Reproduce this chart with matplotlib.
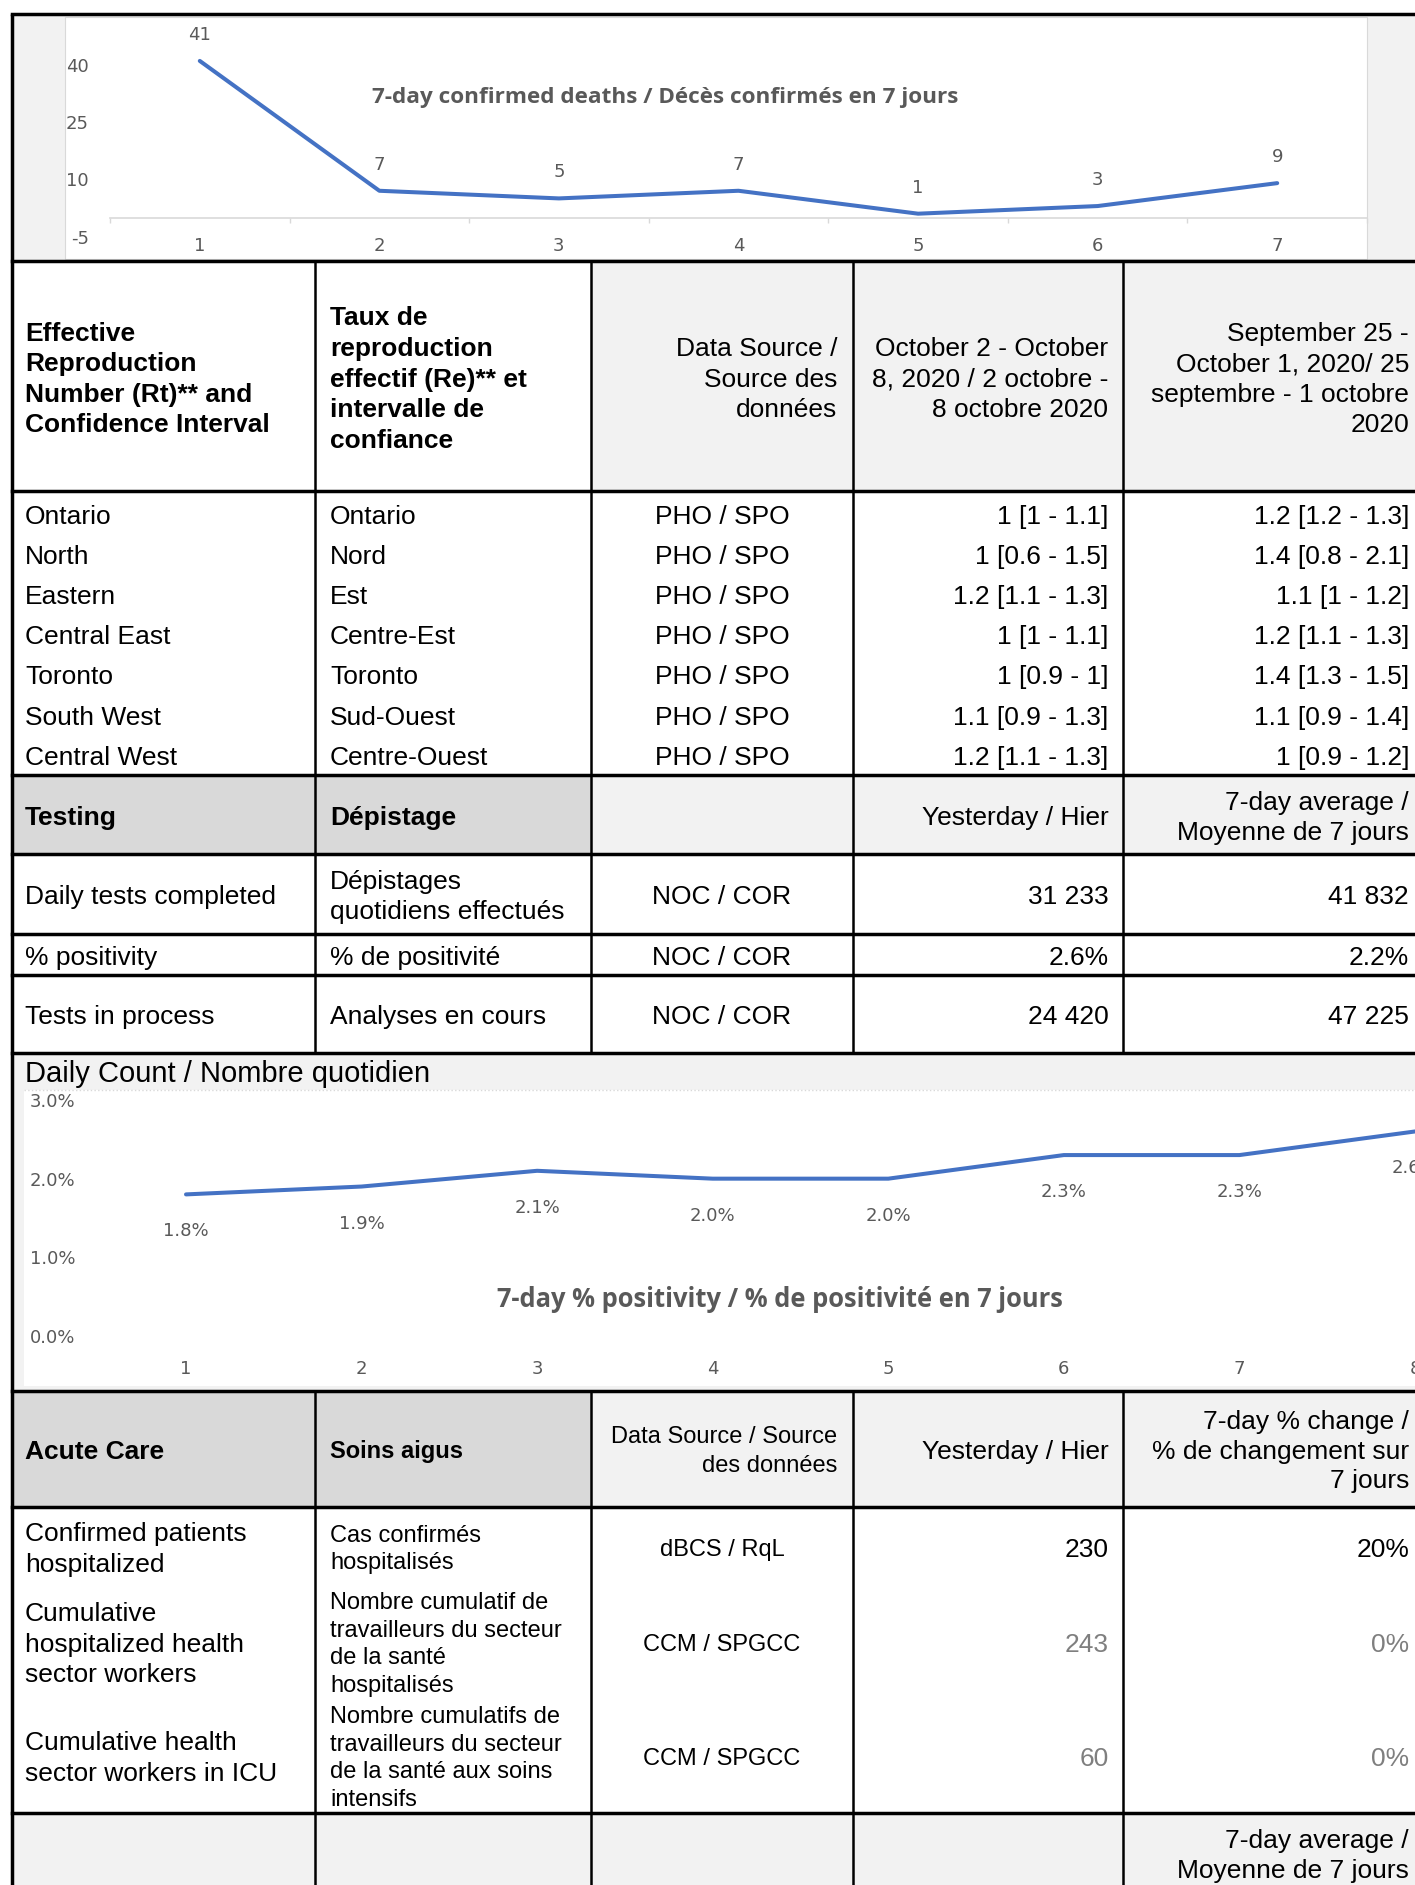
import matplotlib
matplotlib.use("Agg")
import matplotlib.pyplot as plt
from matplotlib.patches import Rectangle
import numpy as np

# ---------------- data ----------------
death_days = [1, 2, 3, 4, 5, 6, 7]
deaths_7day = [41, 7, 5, 7, 1, 3, 9]
death_yticks = [-5, 10, 25, 40]
deaths_title = "7-day confirmed deaths / Décès confirmés en 7 jours"

pos_days = [1, 2, 3, 4, 5, 6, 7, 8]
positivity_7day = [1.8, 1.9, 2.1, 2.0, 2.0, 2.3, 2.3, 2.6]
pos_yticks = [0, 1, 2, 3]
pos_title = "7-day % positivity / % de positivité en 7 jours"
pos_section_title = "Daily Count / Nombre quotidien"

rt_header = [["Effective", "Reproduction", "Number (Rt)** and", "Confidence Interval"],
             ["Taux de", "reproduction", "effectif (Re)** et", "intervalle de", "confiance"],
             ["Data Source /", "Source des", "données"],
             ["October 2 - October", "8, 2020 / 2 octobre -", "8 octobre 2020"],
             ["September 25 -", "October 1, 2020/ 25", "septembre - 1 octobre", "2020"]]
regions_en = ["Ontario", "North", "Eastern", "Central East", "Toronto", "South West", "Central West"]
regions_fr = ["Ontario", "Nord", "Est", "Centre-Est", "Toronto", "Sud-Ouest", "Centre-Ouest"]
rt_source = "PHO / SPO"
rt_current = ["1 [1 - 1.1]", "1 [0.6 - 1.5]", "1.2 [1.1 - 1.3]", "1 [1 - 1.1]",
              "1 [0.9 - 1]", "1.1 [0.9 - 1.3]", "1.2 [1.1 - 1.3]"]
rt_previous = ["1.2 [1.2 - 1.3]", "1.4 [0.8 - 2.1]", "1.1 [1 - 1.2]", "1.2 [1.1 - 1.3]",
               "1.4 [1.3 - 1.5]", "1.1 [0.9 - 1.4]", "1 [0.9 - 1.2]"]

testing_header = ["Testing", "Dépistage", "", "Yesterday / Hier", ["7-day average /", "Moyenne de 7 jours"]]
testing_en = ["Daily tests completed", "% positivity", "Tests in process"]
testing_fr = [["Dépistages", "quotidiens effectués"], "% de positivité", "Analyses en cours"]
testing_source = "NOC / COR"
testing_yesterday = ["31 233", "2.6%", "24 420"]
testing_avg = ["41 832", "2.2%", "47 225"]

acute_header = ["Acute Care", "Soins aigus", ["Data Source / Source", "des données"],
                "Yesterday / Hier", ["7-day % change /", "% de changement sur", "7 jours"]]
acute_en = [["Confirmed patients", "hospitalized"],
            ["Cumulative", "hospitalized health", "sector workers"],
            ["Cumulative health", "sector workers in ICU"]]
acute_fr = [["Cas confirmés", "hospitalisés"],
            ["Nombre cumulatif de", "travailleurs du secteur", "de la santé", "hospitalisés"],
            ["Nombre cumulatifs de", "travailleurs du secteur", "de la santé aux soins", "intensifs"]]
acute_source = ["dBCS / RqL", "CCM / SPGCC", "CCM / SPGCC"]
acute_yesterday = ["230", "243", "60"]
acute_change = ["20%", "0%", "0%"]
acute_gray = [False, True, True]
last_header = ["7-day average /", "Moyenne de 7 jours"]

# ---------------- style ----------------
W, H, DPI = 1415, 1885, 100
PX = 72.0 / DPI
TABLE_FONT = ["Liberation Sans", "DejaVu Sans"]
LABEL_FONT = ["DejaVu Sans"]
TITLE_FONT = ["Open Sans", "DejaVu Sans"]
plt.rcParams['font.family'] = LABEL_FONT
plt.rcParams['axes.unicode_minus'] = False
LINE_BLUE = "#4472C4"
CHART_GRAY = "#595959"
LIGHT = "#f2f2f2"
MID = "#d9d9d9"
VALUE_GRAY = "#7f7f7f"

fig = plt.figure(figsize=(W / DPI, H / DPI), dpi=DPI)
bg = fig.add_axes([0, 0, 1, 1])
bg.set_xlim(0, W)
bg.set_ylim(H, 0)
bg.axis('off')


def frect(x0, y0, x1, y1):
    return [x0 / W, 1 - y1 / H, (x1 - x0) / W, (y1 - y0) / H]


def rect(x0, y0, x1, y1, color, ec='none', lw=0):
    bg.add_patch(Rectangle((x0, y0), x1 - x0, y1 - y0, facecolor=color,
                           edgecolor=ec, linewidth=lw, zorder=0))


def hline(y, x0=12, x1=W, lw=2.5):
    bg.plot([x0, x1], [y, y], color='black', lw=lw, solid_capstyle='projecting', zorder=3)


def vline(x, y0, y1, lw=1.8):
    bg.plot([x, x], [y0, y1], color='black', lw=lw, solid_capstyle='butt', zorder=3)


def cell(x, yc, lines, ha='left', size=19, weight='normal', color='black', pitch=None):
    if isinstance(lines, str):
        lines = [lines]
    em = size * DPI / 72.0
    if pitch is None:
        pitch = 1.15 * em
    n = len(lines)
    for i, l in enumerate(lines):
        yl = yc + (i - (n - 1) / 2) * pitch + 0.36 * em
        bg.text(x, yl, l, ha=ha, va='baseline', fontsize=size, fontweight=weight,
                color=color, family=TABLE_FONT, zorder=4)


# column geometry
XL, C1, C2, C3, C4 = 12, 315, 591, 853, 1123
c1L, c2L, c3C, c3R, c4R, c5R = 25, 330, 722, 837, 1108.5, 1409

# ---------------- fills ----------------
rect(XL, 14, W, 261, LIGHT)
rect(65, 17, 1367, 259, 'white', ec=MID, lw=0.8)
rect(C2, 261, W, 491, LIGHT)
rect(XL, 775, C2, 854, MID)
rect(C2, 775, W, 854, LIGHT)
rect(XL, 1053, W, 1391, LIGHT)
rect(24, 1090, W + 5, 1386, 'white')
bg.plot([24, W], [1090, 1090], color=MID, ls=':', lw=1, zorder=1)
rect(XL, 1391, C2, 1507, MID)
rect(C2, 1391, W, 1507, LIGHT)
rect(XL, 1813, W, H, LIGHT)

# ---------------- lines ----------------
for y in [14, 261, 491, 775, 854, 934, 975, 1053, 1391, 1507, 1813]:
    hline(y)
vline(XL, 14, H, lw=2.5)
for x in [C1, C2, C3, C4]:
    vline(x, 261, 1053)
    vline(x, 1391, H)

# ---------------- Rt section ----------------
hy = 377
cell(c1L, hy, rt_header[0], weight='bold', pitch=30.4)
cell(c2L, hy, rt_header[1], weight='bold', pitch=30.6)
cell(c3R, hy, rt_header[2], ha='right', pitch=30.4)
cell(c4R, hy, rt_header[3], ha='right', pitch=30.4)
cell(c5R, hy, rt_header[4], ha='right', pitch=30.6)

for i in range(len(regions_en)):
    yc = 514.5 + 40.1 * i
    cell(c1L, yc, regions_en[i])
    cell(c2L, yc, regions_fr[i])
    cell(c3C, yc, rt_source, ha='center')
    cell(c4R, yc, rt_current[i], ha='right')
    cell(c5R, yc, rt_previous[i], ha='right')

# ---------------- Testing ----------------
ty = 815
cell(c1L, ty, testing_header[0], weight='bold')
cell(c2L, ty, testing_header[1], weight='bold')
cell(c4R, ty, testing_header[3], ha='right')
cell(c5R, ty, testing_header[4], ha='right', pitch=30.0)
test_rows = [(854, 934), (934, 975), (975, 1053)]
for i, (y0, y1) in enumerate(test_rows):
    yc = (y0 + y1) / 2 + 0.5
    cell(c1L, yc, testing_en[i])
    cell(c2L, yc, testing_fr[i], pitch=30.0)
    cell(c3C, yc, testing_source, ha='center')
    cell(c4R, yc, testing_yesterday[i], ha='right')
    cell(c5R, yc, testing_avg[i], ha='right')

# ---------------- Acute care ----------------
ay = 1449
cell(c1L, ay, acute_header[0], weight='bold')
cell(c2L, ay, acute_header[1], weight='bold', size=17)
cell(c3R, ay, acute_header[2], ha='right', size=17, pitch=28.8)
cell(c4R, ay, acute_header[3], ha='right')
cell(c5R, ay, acute_header[4], ha='right', pitch=29.5)
acute_y = [1547, 1642, 1756]
for i, yc in enumerate(acute_y):
    vc = VALUE_GRAY if acute_gray[i] else 'black'
    cell(c1L, yc, acute_en[i], pitch=30.4)
    cell(c2L, yc, acute_fr[i], size=17, pitch=27.6)
    cell(c3C, yc, acute_source[i], ha='center', size=17)
    cell(c4R, yc, acute_yesterday[i], ha='right', color=vc)
    cell(c5R, yc, acute_change[i], ha='right', color=vc)
cell(c5R, 1853, last_header, ha='right', pitch=30.0)

# ---------------- chart 1: deaths ----------------
ax1 = fig.add_axes(frect(110, 17, 1367, 236.6))
ax1.set_facecolor('none')
ax1.set_xlim(0.5, len(death_days) + 0.5)
ax1.set_ylim(-5, 52.5)
ax1.plot(death_days, deaths_7day, color=LINE_BLUE, lw=2.9,
         solid_joinstyle='round', solid_capstyle='round', clip_on=False)
for d, v in zip(death_days, deaths_7day):
    ax1.annotate(str(v), (d, v), xytext=(0, 26 * PX), textcoords='offset points',
                 ha='center', va='center', fontsize=13, color=CHART_GRAY, annotation_clip=False)
for s in ['left', 'top', 'right']:
    ax1.spines[s].set_visible(False)
ax1.spines['bottom'].set_position(('data', 0))
ax1.spines['bottom'].set_color(MID)
ax1.spines['bottom'].set_linewidth(1.2)
ax1.set_yticks(death_yticks)
ax1.set_xticks(death_days)
ax1.set_xticks(np.arange(len(death_days) + 1) + 0.5, minor=True)
ax1.tick_params(axis='x', which='major', length=0, pad=19 * PX, labelsize=13, labelcolor=CHART_GRAY)
ax1.tick_params(axis='x', which='minor', length=5 * PX, color=MID, direction='out', width=1)
ax1.tick_params(axis='y', length=0, pad=21 * PX, labelsize=13, labelcolor=CHART_GRAY)
bg.text(665, 97, deaths_title, ha='center', va='center', fontsize=16.2, family=TITLE_FONT,
        fontweight='bold', color=CHART_GRAY, zorder=4)

# ---------------- chart 2: positivity ----------------
cell(c1L, 1071, pos_section_title, size=21)
step = 175.57
ax2 = fig.add_axes(frect(186 - step / 2, 1100, 186 + step * (len(pos_days) - 0.5), 1336))
ax2.set_facecolor('none')
ax2.set_xlim(0.5, len(pos_days) + 0.5)
ax2.set_ylim(0, 3)
ax2.plot(pos_days, positivity_7day, color=LINE_BLUE, lw=2.9,
         solid_joinstyle='round', solid_capstyle='round')
for d, v in zip(pos_days, positivity_7day):
    ax2.annotate(f"{v:.1f}%", (d, v), xytext=(0, -37 * PX), textcoords='offset points',
                 ha='center', va='center', fontsize=13, color=CHART_GRAY)
for s in ax2.spines.values():
    s.set_visible(False)
ax2.set_yticks(pos_yticks)
ax2.set_yticklabels([f"{v:.1f}%" for v in pos_yticks])
ax2.set_xticks(pos_days)
ax2.tick_params(axis='x', length=0, pad=24 * PX, labelsize=13, labelcolor=CHART_GRAY)
ax2.tick_params(axis='y', length=0, pad=23 * PX, labelsize=13, labelcolor=CHART_GRAY)
bg.text(780, 1299.5, pos_title, ha='center', va='center', fontsize=18.4, family=TITLE_FONT,
        fontweight='bold', color=CHART_GRAY, zorder=4)

fig.savefig("out.png", dpi=DPI)
